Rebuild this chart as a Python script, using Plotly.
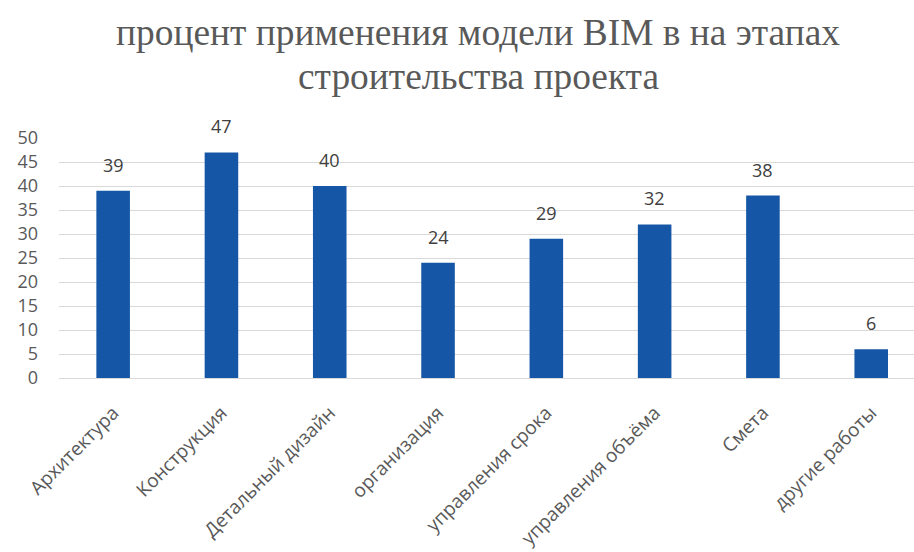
import plotly.graph_objects as go

# Stages of the construction project and BIM usage share (%)
categories = [
    "Архитектура",
    "Конструкция",
    "Детальный дизайн",
    "организация",
    "управления срока",
    "управления объёма",
    "Смета",
    "другие работы",
]
values = [39, 47, 40, 24, 29, 32, 38, 6]
y_ticks = [0, 5, 10, 15, 20, 25, 30, 35, 40, 45, 50]

title_lines = ["процент применения модели BIM в на этапах", "строительства проекта"]

SANS = "Open Sans, Liberation Sans, sans-serif"
SERIF = "Liberation Serif, Times New Roman, serif"

x_idx = list(range(len(categories)))

fig = go.Figure(
    go.Bar(
        x=x_idx,
        y=values,
        width=0.31,
        marker=dict(color="#1656A6", line=dict(width=0)),
        hoverinfo="skip",
    )
)

# value labels above each bar
for i, v in zip(x_idx, values):
    fig.add_annotation(
        x=i, y=v, xref="x", yref="y",
        text=str(v), showarrow=False,
        yanchor="middle", yshift=26,
        font=dict(family=SANS, size=18, color="#404040"),
    )

# two-line chart title, placed in paper coordinates
plot_left, plot_w = 59, 855
plot_top, plot_h = 138, 240
for line, center_px in zip(title_lines, [32, 76]):
    fig.add_annotation(
        x=(478 - plot_left) / plot_w, xref="paper",
        y=(plot_top + plot_h - center_px) / plot_h, yref="paper",
        text=line, showarrow=False,
        xanchor="center", yanchor="middle",
        font=dict(family=SERIF, size=37.4, color="#595959"),
    )

fig.update_layout(
    width=914,
    height=552,
    margin=dict(l=plot_left, r=914 - plot_left - plot_w, t=plot_top, b=552 - plot_top - plot_h),
    paper_bgcolor="white",
    plot_bgcolor="white",
    showlegend=False,
    xaxis=dict(
        range=[-0.5, 7.395],
        tickmode="array",
        tickvals=x_idx,
        ticktext=categories,
        tickangle=-45,
        showgrid=False,
        zeroline=False,
        showline=False,
        ticks="",
        ticklabelstandoff=19,
        tickfont=dict(family=SANS, size=19, color="#595959"),
    ),
    yaxis=dict(
        range=[0, 50],
        tickmode="array",
        tickvals=y_ticks,
        showgrid=True,
        gridcolor="#D9D9D9",
        gridwidth=1,
        zeroline=True,
        zerolinecolor="#D9D9D9",
        zerolinewidth=1,
        showline=False,
        ticks="",
        ticklabelstandoff=20,
        tickfont=dict(family=SANS, size=18, color="#595959"),
    ),
)

fig.write_html("out.html")
